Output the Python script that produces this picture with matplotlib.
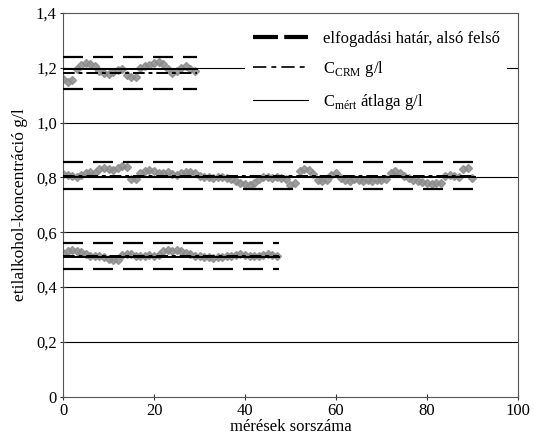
import matplotlib.pyplot as plt
import numpy as np
from matplotlib.lines import Line2D

plt.rcParams['font.family'] = ['Liberation Serif', 'DejaVu Serif']
plt.rcParams['mathtext.fontset'] = 'custom'
plt.rcParams['mathtext.rm'] = 'Liberation Serif'

# measured ethanol concentrations, g/l, in order of measurement
meas_12 = [1.160, 1.150, 1.155, 1.195, 1.212, 1.218, 1.215, 1.205, 1.190, 1.182,
           1.178, 1.185, 1.192, 1.195, 1.175, 1.165, 1.168, 1.198, 1.205, 1.212,
           1.218, 1.222, 1.214, 1.195, 1.182, 1.188, 1.200, 1.205, 1.195, 1.190]

meas_08 = [0.812, 0.810, 0.806, 0.802, 0.808, 0.815, 0.820, 0.818, 0.830, 0.835,
           0.832, 0.828, 0.836, 0.842, 0.838, 0.796, 0.794, 0.818, 0.824, 0.826,
           0.822, 0.818, 0.816, 0.820, 0.814, 0.810, 0.818, 0.821, 0.819, 0.816,
           0.804, 0.800, 0.802, 0.798, 0.800, 0.803, 0.799, 0.795, 0.786, 0.781,
           0.776, 0.772, 0.778, 0.795, 0.802, 0.800, 0.797, 0.801, 0.799, 0.796,
           0.774, 0.778, 0.822, 0.830, 0.826, 0.812, 0.790, 0.787, 0.792, 0.810,
           0.815, 0.798, 0.792, 0.788, 0.794, 0.790, 0.786, 0.792, 0.788, 0.791,
           0.789, 0.796, 0.818, 0.822, 0.815, 0.806, 0.798, 0.790, 0.786, 0.782,
           0.778, 0.776, 0.780, 0.778, 0.804, 0.808, 0.806, 0.802, 0.830, 0.834,
           0.798]

meas_05 = [0.525, 0.530, 0.535, 0.532, 0.528, 0.520, 0.515, 0.512, 0.515, 0.510,
           0.502, 0.498, 0.500, 0.518, 0.522, 0.520, 0.514, 0.512, 0.515, 0.516,
           0.514, 0.518, 0.530, 0.534, 0.532, 0.536, 0.530, 0.526, 0.520, 0.515,
           0.512, 0.510, 0.508, 0.505, 0.508, 0.510, 0.512, 0.515, 0.518, 0.520,
           0.516, 0.514, 0.512, 0.515, 0.518, 0.520, 0.517, 0.512]

# acceptance limits (lower, upper), certified value and measured mean
lower = [1.121, 0.757, 0.465]
upper = [1.239, 0.856, 0.562]
c_crm = [1.180, 0.805, 0.513]
c_mean = [1.195, 0.800, 0.508]

series = [meas_12, meas_08, meas_05]

fig = plt.figure(figsize=(5.34, 4.34), dpi=100)
ax = fig.add_axes([0.118, 0.086, 0.852, 0.884])

for y in [0.2, 0.4, 0.6, 0.8, 1.0, 1.2]:
    ax.axhline(y, color='black', lw=0.8, zorder=1)

for vals, lo, hi, crm, mean in zip(series, lower, upper, c_crm, c_mean):
    n = len(vals)
    xs = np.arange(n)
    x_end = n - 0.5
    ax.plot(xs, vals, ls='none', marker='D', ms=3.6, color='#8c8c8c',
            alpha=0.85, zorder=2)
    ax.plot([0, x_end], [lo, lo], color='black', lw=1.6, dashes=(9, 4.5), zorder=3)
    ax.plot([0, x_end], [hi, hi], color='black', lw=1.6, dashes=(9, 4.5), zorder=3)
    ax.plot([0, x_end], [crm, crm], color='black', lw=1.4,
            dashes=(6, 2, 2, 2), zorder=3)
    ax.plot([0, x_end], [mean, mean], color='black', lw=1.4, zorder=3)

ax.set_xlim(0, 100)
ax.set_ylim(0, 1.4)
ax.set_xticks([0, 20, 40, 60, 80, 100])
ax.set_yticks([0, 0.2, 0.4, 0.6, 0.8, 1.0, 1.2, 1.4])
ax.set_yticklabels(['0', '0,2', '0,4', '0,6', '0,8', '1,0', '1,2', '1,4'])
ax.tick_params(direction='inout', length=5, labelsize=12, color='#333333', pad=2)
for sp in ax.spines.values():
    sp.set_color('#555555')
ax.set_xlabel('mérések sorszáma', fontsize=12, labelpad=0)
ax.set_ylabel('etilalkohol-koncentráció g/l', fontsize=12.5, labelpad=6)

handles = [
    Line2D([], [], color='black', lw=3, dashes=(6, 1.5)),
    Line2D([], [], color='black', lw=1.2, dashes=(8, 3, 3, 3)),
    Line2D([], [], color='black', lw=0.8),
]
labels = ['elfogadási határ, alsó felső',
          r'C$_{\mathrm{CRM}}$ g/l',
          r'C$_{\mathrm{mért}}$ átlaga g/l']
leg = ax.legend(handles, labels, loc='upper right', fontsize=12,
                frameon=True, framealpha=1, edgecolor='none', fancybox=False,
                handlelength=3.3, handletextpad=0.9, labelspacing=0.75,
                borderpad=0.45, bbox_to_anchor=(0.995, 0.995))
leg.set_zorder(5)

fig.savefig('out.png', dpi=100)
